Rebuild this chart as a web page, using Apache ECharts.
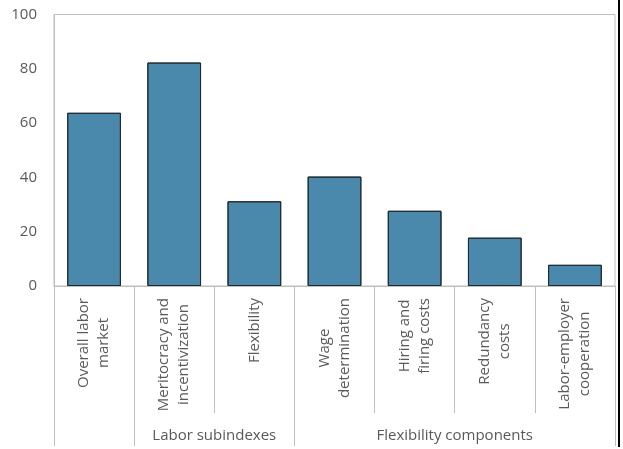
<!DOCTYPE html>
<html>
<head>
<meta charset="utf-8">
<script src="https://cdn.jsdelivr.net/npm/echarts@6/dist/echarts.min.js"></script>
<style>html,body{margin:0;padding:0;background:#fff;}#c{width:623px;height:449px;}</style>
</head>
<body>
<div id="c"></div>
<script>
const categories = ['Overall labor\nmarket', 'Meritocracy and\nincentivization', 'Flexibility', 'Wage\ndetermination', 'Hiring and\nfiring costs', 'Redundancy\ncosts', 'Labor-employer\ncooperation'];
const values = [63.8, 82.3, 31.2, 40.3, 27.7, 17.8, 7.8];
const groupLabels = ['Labor subindexes', 'Flexibility components'];
const groupLabelPositions = [2, 5];
const groupBoundaries = [0, 1, 3, 7];
const yTicks = [0, 20, 40, 60, 80, 100];

const FONT = 'Open Sans';
const TXT = '#595959';
const LINE = '#bfbfbf';
const FS = 15;

const chart = echarts.init(document.getElementById('c'), null, {renderer: 'canvas'});
chart.setOption({
  animation: false,
  backgroundColor: '#fff',
  textStyle: {fontFamily: FONT},
  grid: {left: 54, right: 8, top: 14.5, bottom: 163, show: true, borderColor: LINE, borderWidth: 1, backgroundColor: 'transparent', containLabel: false},
  xAxis: [{
    type: 'category',
    data: categories,
    position: 'bottom',
    axisLine: {show: true, lineStyle: {color: LINE, width: 1}},
    axisTick: {show: true, length: 127, lineStyle: {color: LINE, width: 1}},
    axisLabel: {
      rotate: 90, interval: 0, margin: 12,
      fontSize: FS, color: TXT, fontFamily: FONT, lineHeight: 20,
      formatter: v => v.split('\n').map(l => '{c|' + l + '}').join('\n'),
      rich: {c: {align: 'center', fontSize: FS, color: TXT, fontFamily: FONT, lineHeight: 20}}
    }
  }, {
    type: 'value',
    min: 0, max: 7,
    position: 'bottom',
    offset: 127,
    axisLine: {show: false},
    splitLine: {show: false},
    axisTick: {show: true, length: 33, customValues: groupBoundaries, lineStyle: {color: LINE, width: 1}},
    axisLabel: {
      show: true, margin: 15, fontSize: FS, color: TXT, fontFamily: FONT,
      customValues: groupLabelPositions,
      formatter: v => { const i = groupLabelPositions.indexOf(v); return i >= 0 ? groupLabels[i] : ''; }
    }
  }],
  yAxis: {
    type: 'value', min: 0, max: 100, interval: 20,
    axisLine: {show: true, lineStyle: {color: LINE}},
    axisTick: {show: false},
    splitLine: {show: false},
    axisLabel: {margin: 17, fontSize: FS, color: TXT, fontFamily: FONT, formatter: v => yTicks.includes(v) ? String(v) : ''}
  },
  series: [{
    type: 'bar',
    data: values,
    xAxisIndex: 0,
    barCategoryGap: '33%',
    itemStyle: {
      color: '#4a89ac',
      borderColor: '#1e2a30',
      borderWidth: 1,
      decal: {symbol: 'circle', symbolSize: 0.35, color: 'rgba(40,80,110,0.18)', dashArrayX: [4, 4], dashArrayY: [4, 4], rotation: 0}
    }
  }],
  graphic: [{
    type: 'rect', shape: {x: 618, y: 0, width: 2, height: 447}, style: {fill: '#000'}, silent: true
  }]
});
</script>
</body>
</html>
